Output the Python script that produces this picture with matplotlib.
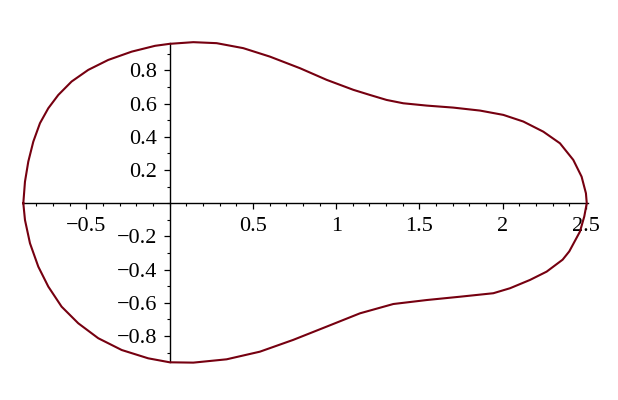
import matplotlib.pyplot as plt
from matplotlib.ticker import MultipleLocator, FixedLocator

# Upper half of the closed curve (left to right)
x_upper = [-0.879, -0.869, -0.849, -0.819, -0.779, -0.729, -0.669, -0.589, -0.489,
           -0.369, -0.228, -0.088, 0.0, 0.142, 0.282, 0.442, 0.602, 0.783, 0.943,
           1.103, 1.203, 1.303, 1.403, 1.544, 1.703, 1.864, 2.004, 2.124, 2.244,
           2.344, 2.424, 2.474, 2.500, 2.505]
y_upper = [0.0, 0.13, 0.251, 0.371, 0.482, 0.572, 0.652, 0.733, 0.803,
           0.863, 0.913, 0.948, 0.96, 0.97, 0.964, 0.934, 0.883, 0.813, 0.743,
           0.683, 0.652, 0.622, 0.602, 0.588, 0.576, 0.558, 0.532, 0.492, 0.431,
           0.361, 0.261, 0.160, 0.06, 0.0]

# Lower half (right to left)
x_lower = [2.505, 2.49, 2.464, 2.40, 2.36, 2.264, 2.164, 2.044, 1.944, 1.744,
           1.544, 1.343, 1.143, 0.943, 0.742, 0.542, 0.342, 0.142, 0.0, -0.129,
           -0.288, -0.429, -0.549, -0.649, -0.729, -0.789, -0.839, -0.869, -0.879]
y_lower = [0.0, -0.08, -0.171, -0.29, -0.34, -0.412, -0.462, -0.512, -0.542, -0.563,
           -0.583, -0.607, -0.663, -0.743, -0.823, -0.894, -0.94, -0.96, -0.958, -0.934,
           -0.884, -0.813, -0.723, -0.623, -0.502, -0.382, -0.241, -0.101, 0.0]

x_major = [-0.5, 0.5, 1, 1.5, 2, 2.5]
y_major = [-0.8, -0.6, -0.4, -0.2, 0.2, 0.4, 0.6, 0.8]

plt.rcParams['font.family'] = ['Liberation Serif', 'DejaVu Serif']

fig = plt.figure(figsize=(6.18, 4.0), dpi=100)
ax = fig.add_axes([0.0388, 0.0955, 0.912, 0.797])

ax.plot(x_upper + x_lower, y_upper + y_lower, color='#760010', lw=1.5,
        clip_on=False, zorder=5, solid_joinstyle='round')

ax.set_xlim(-0.875, 2.51)
ax.set_ylim(-0.955, 0.965)

for side in ['top', 'right']:
    ax.spines[side].set_visible(False)
ax.spines['left'].set_position(('data', 0))
ax.spines['bottom'].set_position(('data', 0))
ax.spines['left'].set_linewidth(1.0)
ax.spines['bottom'].set_linewidth(1.0)

ax.xaxis.set_major_locator(FixedLocator(x_major))
ax.yaxis.set_major_locator(FixedLocator(y_major))
ax.xaxis.set_minor_locator(MultipleLocator(0.1))
ax.yaxis.set_minor_locator(MultipleLocator(0.1))
ax.set_xticklabels([f'{v:g}'.replace('-', '\u2212') for v in x_major])
ax.set_yticklabels([f'{v:g}'.replace('-', '\u2212') for v in y_major])

ax.tick_params(which='major', direction='out', length=4, width=0.9,
               labelsize=16, pad=6)
ax.tick_params(which='minor', direction='out', length=2.5, width=0.8)
ax.tick_params(axis='y', which='major', pad=5)

fig.savefig('out.png', dpi=100)
